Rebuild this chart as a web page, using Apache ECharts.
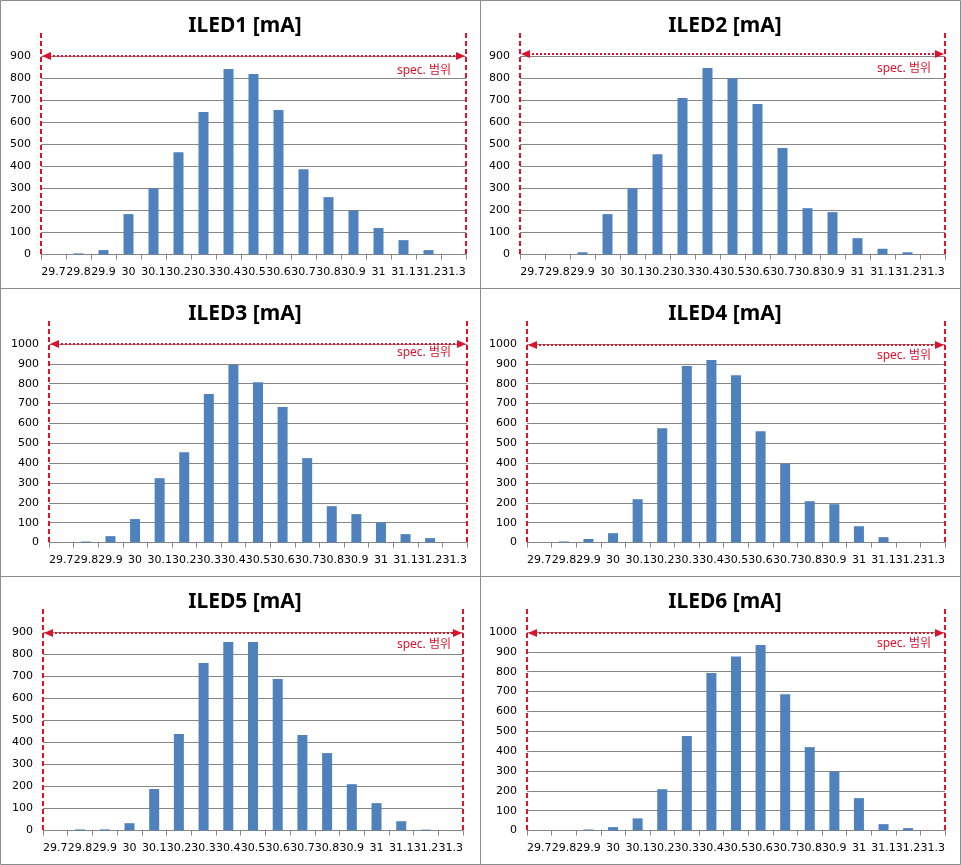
<!DOCTYPE html>
<html>
<head>
<meta charset="utf-8">
<script src="https://cdn.jsdelivr.net/npm/echarts@6/dist/echarts.min.js"></script>
<style>
html,body{margin:0;padding:0;background:#fff;}
#chart{width:961px;height:865px;}
</style>
</head>
<body>
<div id="chart"></div>
<script>
const categories = ['29.7','29.8','29.9','30','30.1','30.2','30.3','30.4','30.5','30.6','30.7','30.8','30.9','31','31.1','31.2','31.3'];
const iled1 = [0, 5, 20, 183, 300, 464, 646, 841, 818, 655, 387, 260, 200, 120, 65, 20, 0];
const iled2 = [0, 0, 10, 183, 300, 455, 710, 846, 799, 682, 483, 210, 192, 74, 26, 10, 0];
const iled3 = [0, 5, 32, 118, 324, 455, 748, 894, 807, 682, 425, 183, 143, 101, 42, 22, 0];
const iled4 = [0, 5, 18, 47, 218, 576, 889, 919, 842, 561, 398, 208, 193, 82, 27, 0, 0];
const iled5 = [0, 5, 5, 33, 188, 437, 759, 855, 855, 687, 433, 351, 210, 124, 42, 4, 0];
const iled6 = [0, 0, 5, 17, 61, 208, 476, 793, 876, 934, 687, 420, 297, 163, 32, 12, 0];
const seriesList = [iled1, iled2, iled3, iled4, iled5, iled6];
const titles = ['ILED1 [mA]', 'ILED2 [mA]', 'ILED3 [mA]', 'ILED4 [mA]', 'ILED5 [mA]', 'ILED6 [mA]'];
const yMaxes = [900, 900, 1000, 1000, 900, 1000];
const specLabel = 'spec. 범위';

// layout
const panelX = [0, 480, 0, 480, 0, 480];
const panelY = [0, 0, 288, 288, 576, 576];
const plotLeft = [41, 40, 49, 47, 43, 47];
const plotRight = [466, 465, 467, 465, 463, 465];
const arrowY = [56, 54, 56, 57, 57, 57];
const specY = [71, 69, 65, 68, 69, 68];
const PLOT_TOP = 56, PLOT_H = 198.5;
const RED = '#e0112b';
const GRIDC = '#868686';
const FONT = 'DejaVu Sans';

const grids = [], xAxes = [], yAxes = [], series = [], titleOpts = [], graphics = [];
for (let i = 0; i < 6; i++) {
  const x0 = panelX[i], y0 = panelY[i];
  const gl = x0 + plotLeft[i], gr = x0 + plotRight[i];
  const gt = y0 + PLOT_TOP;
  grids.push({left: gl, top: gt, width: gr - gl, height: PLOT_H, containLabel: false});
  xAxes.push({
    type: 'category', gridIndex: i, data: categories, boundaryGap: true,
    axisLine: {lineStyle: {color: GRIDC, width: 1}},
    axisTick: {show: true, length: 5, lineStyle: {color: GRIDC}},
    axisLabel: {interval: 0, hideOverlap: false, color: '#000', fontFamily: FONT, fontSize: 11, margin: 12}
  });
  yAxes.push({
    type: 'value', gridIndex: i, min: 0, max: yMaxes[i], interval: 100,
    axisLine: {show: false},
    axisTick: {show: false},
    splitLine: {show: true, lineStyle: {color: GRIDC, width: 1}},
    axisLabel: {color: '#000', fontFamily: FONT, fontSize: 11, margin: 10,
      formatter: function (v) { return String(v); }}
  });
  series.push({
    type: 'bar', xAxisIndex: i, yAxisIndex: i, data: seriesList[i],
    barWidth: 10, itemStyle: {color: '#4f81bd'}, silent: true, animation: false
  });
  titleOpts.push({
    text: titles[i], left: x0 + 240, top: y0 + 11, textAlign: 'center',
    textStyle: {fontFamily: 'Noto Sans', fontSize: 21, fontWeight: 'bold', color: '#000'}
  });
  // panel border
  graphics.push({type: 'rect', shape: {x: x0 + 0.5, y: y0 + 0.5, width: 480, height: 288},
    style: {fill: null, stroke: '#8c8c8c', lineWidth: 1}, silent: true, z: 100});
  // red dashed verticals
  [gl, gr].forEach(function (xx) {
    graphics.push({type: 'line', shape: {x1: xx, y1: y0 + 33, x2: xx, y2: y0 + 255},
      style: {stroke: RED, lineWidth: 2, lineDash: [5, 3]}, silent: true, z: 101});
  });
  // dotted double arrow
  const ay = y0 + arrowY[i];
  graphics.push({type: 'line', shape: {x1: gl + 8, y1: ay, x2: gr - 8, y2: ay},
    style: {stroke: RED, lineWidth: 2, lineDash: [2, 2]}, silent: true, z: 101});
  graphics.push({type: 'polygon', shape: {points: [[gl + 1, ay], [gl + 10, ay - 4], [gl + 10, ay + 4]]},
    style: {fill: RED}, silent: true, z: 102});
  graphics.push({type: 'polygon', shape: {points: [[gr - 1, ay], [gr - 10, ay - 4], [gr - 10, ay + 4]]},
    style: {fill: RED}, silent: true, z: 102});
  graphics.push({type: 'text', x: x0 + 451, y: y0 + specY[i],
    style: {text: specLabel, fill: RED, font: '12px "Noto Sans", "Noto Sans CJK KR"', textAlign: 'right', textVerticalAlign: 'middle'},
    silent: true, z: 102});
}

const chart = echarts.init(document.getElementById('chart'), null, {renderer: 'canvas'});
chart.setOption({
  animation: false,
  backgroundColor: '#fff',
  title: titleOpts,
  grid: grids,
  xAxis: xAxes,
  yAxis: yAxes,
  series: series,
  graphic: graphics
});
</script>
</body>
</html>
